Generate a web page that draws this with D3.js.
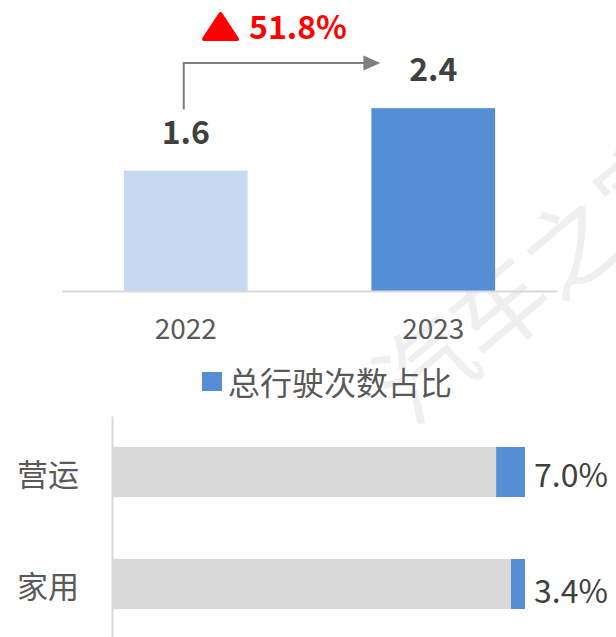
<!DOCTYPE html>
<html>
<head>
<meta charset="utf-8">
<script src="https://cdn.jsdelivr.net/npm/d3@7"></script>
<style>
  html, body { margin: 0; padding: 0; background: #ffffff; }
  svg { display: block; }
  text { font-family: "Noto Sans CJK SC", "Noto Sans", sans-serif; }
</style>
</head>
<body>
<svg id="chart" width="616" height="637"></svg>
<script>
// ---- data ----
const years = ["2022", "2023"];
const trips = [1.58, 2.40];
const growthLabel = "51.8%";
const categories = ["营运", "家用"];
const shares = [7.0, 3.4];
const legendLabel = "总行驶次数占比";
const watermark = "汽车之家";

// ---- styles ----
const C_LIGHT = "#C6D9F0", C_BLUE = "#558ED5", C_GRAY = "#D9D9D9";
const C_TEXT = "#595959", C_DARK = "#404040", C_ARROW = "#7F7F7F", C_RED = "#FF0000";

const svg = d3.select("#chart");

// watermark (behind everything)
svg.append("text")
  .attr("transform", "translate(532,272) rotate(-40)")
  .attr("text-anchor", "middle")
  .attr("dominant-baseline", "central")
  .attr("font-size", 96)
  .attr("fill", "#EFEFEF")
  .text(watermark);

// ---- top column chart ----
const x = d3.scaleBand().domain(years).range([62, 557]).paddingInner(0.5).paddingOuter(0.25);
const y = d3.scaleLinear().domain([0, 3]).range([291, 291 - 3 * 76.2]);

const gTop = svg.append("g");
gTop.selectAll("rect.col").data(years).join("rect")
  .attr("class", "col")
  .attr("x", d => x(d))
  .attr("width", x.bandwidth())
  .attr("y", (d, i) => y(trips[i]))
  .attr("height", (d, i) => y(0) - y(trips[i]))
  .attr("fill", (d, i) => i === 0 ? C_LIGHT : C_BLUE);

gTop.selectAll("text.val").data(years).join("text")
  .attr("class", "val")
  .attr("x", d => x(d) + x.bandwidth() / 2)
  .attr("y", (d, i) => y(trips[i]) - 27)
  .attr("text-anchor", "middle")
  .attr("font-size", 32)
  .attr("font-weight", "bold")
  .attr("fill", C_DARK)
  .text((d, i) => trips[i].toFixed(1));

const xAxis = svg.append("g")
  .attr("transform", `translate(0,${y(0)})`)
  .call(d3.axisBottom(x).tickSize(0).tickSizeOuter(0));
xAxis.select(".domain").attr("stroke", C_GRAY).attr("stroke-width", 2);
xAxis.selectAll(".tick text")
  .attr("y", 48).attr("dy", 0)
  .attr("font-size", 28)
  .attr("font-family", '"Noto Sans CJK SC", "Noto Sans", sans-serif')
  .attr("fill", C_TEXT);

// growth arrow
const x0 = x(years[0]) + x.bandwidth() / 2 - 2;
const yStart = y(trips[0]) - 61;
const yLine = y(trips[1]) - 45;
const xTip = x(years[1]) + 9;
svg.append("path")
  .attr("d", `M${x0},${yStart}V${yLine}H${xTip - 16}`)
  .attr("fill", "none").attr("stroke", C_ARROW).attr("stroke-width", 2);
svg.append("path")
  .attr("d", `M${xTip - 17},${yLine - 7.5}L${xTip},${yLine}L${xTip - 17},${yLine + 7.5}Z`)
  .attr("fill", C_ARROW);

// growth label with red triangle
svg.append("path")
  .attr("d", "M220.5,14L237,39L204,39Z")
  .attr("fill", C_RED).attr("stroke", C_RED)
  .attr("stroke-width", 4).attr("stroke-linejoin", "round");
svg.append("text")
  .attr("x", 249).attr("y", 39)
  .attr("font-size", 32).attr("font-weight", "bold")
  .attr("fill", C_RED)
  .text(growthLabel);

// ---- legend ----
svg.append("rect").attr("x", 202).attr("y", 372).attr("width", 20).attr("height", 19).attr("fill", C_BLUE);
svg.append("text")
  .attr("x", 228).attr("y", 381)
  .attr("dominant-baseline", "central")
  .attr("font-size", 32).attr("fill", C_TEXT)
  .text(legendLabel);

// ---- bottom bar chart ----
const xb = d3.scaleLinear().domain([0, 100]).range([113, 525]);
const yb = d3.scaleBand().domain(categories).range([416, 640]).paddingInner(0.554).paddingOuter(0.277);

const gBottom = svg.append("g");
gBottom.selectAll("rect.bg").data(categories).join("rect")
  .attr("class", "bg")
  .attr("x", xb(0))
  .attr("y", d => yb(d))
  .attr("width", (d, i) => xb(100 - shares[i]) - xb(0))
  .attr("height", yb.bandwidth())
  .attr("fill", C_GRAY);
gBottom.selectAll("rect.share").data(categories).join("rect")
  .attr("class", "share")
  .attr("x", (d, i) => xb(100 - shares[i]))
  .attr("y", d => yb(d))
  .attr("width", (d, i) => xb(100) - xb(100 - shares[i]))
  .attr("height", yb.bandwidth())
  .attr("fill", C_BLUE);
gBottom.selectAll("text.pct").data(categories).join("text")
  .attr("class", "pct")
  .attr("x", xb(100) + 46)
  .attr("y", (d, i) => yb(d) + yb.bandwidth() / 2 + (i === 0 ? 1 : 5))
  .attr("text-anchor", "middle")
  .attr("dominant-baseline", "central")
  .attr("font-size", 32)
  .attr("fill", C_DARK)
  .text((d, i) => shares[i].toFixed(1) + "%");

const yAxis = svg.append("g")
  .attr("transform", "translate(112,0)")
  .call(d3.axisLeft(yb).tickSize(0).tickSizeOuter(0).tickPadding(33));
yAxis.select(".domain").attr("stroke", C_GRAY).attr("stroke-width", 2);
yAxis.selectAll(".tick text")
  .attr("dy", 0)
  .attr("dominant-baseline", "central")
  .attr("font-size", 31)
  .attr("font-family", '"Noto Sans CJK SC", "Noto Sans", sans-serif')
  .attr("fill", C_TEXT);
</script>
</body>
</html>
